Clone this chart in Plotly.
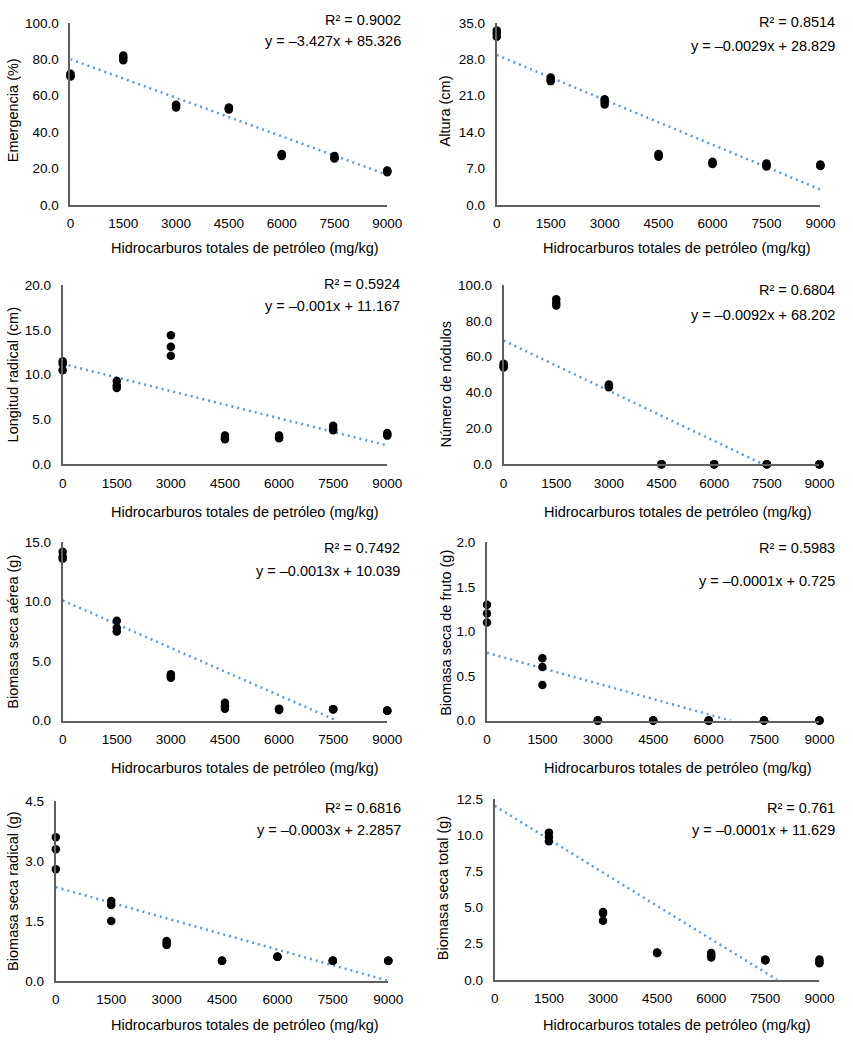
import plotly.graph_objects as go

# ---------------- data ----------------
htp_levels = [0, 1500, 3000, 4500, 6000, 7500, 9000]
x_tick_labels = ["0", "1500", "3000", "4500", "6000", "7500", "9000"]

emergencia = [[72, 71, 70.5], [82, 81, 79.5], [55, 54.5, 53.5], [53.5, 53, 52.5],
              [28, 27.5, 27], [27, 26, 25.5], [19, 18.5, 18]]
altura = [[33.5, 33, 32.3], [24.5, 24, 23.8], [20.3, 19.8, 19.3], [9.8, 9.5, 9.3],
          [8.3, 8.0, 7.9], [8.0, 7.7, 7.4], [7.8, 7.6, 7.5]]
longitud = [[11.5, 11.2, 10.5], [9.3, 8.8, 8.5], [14.4, 13.1, 12.1], [3.2, 3.0, 2.8],
            [3.2, 3.0, 2.9], [4.3, 4.0, 3.8], [3.5, 3.3, 3.2]]
nodulos = [[56, 55, 54], [92, 90, 88.5], [44.5, 44, 43], [0, 0, 0],
           [0, 0, 0], [0, 0, 0], [0, 0, 0]]
aerea = [[14.2, 13.8, 13.6], [8.4, 7.8, 7.5], [3.9, 3.7, 3.6], [1.5, 1.2, 1.0],
         [1.0, 0.95, 0.9], [0.95, 0.95, 0.95], [0.85, 0.83, 0.83]]
fruto = [[1.3, 1.2, 1.1], [0.7, 0.6, 0.4], [0, 0, 0], [0, 0, 0],
         [0, 0, 0], [0, 0, 0], [0, 0, 0]]
radical = [[3.6, 3.3, 2.8], [2.0, 1.9, 1.5], [1.0, 0.95, 0.9], [0.5, 0.5, 0.5],
           [0.6, 0.6, 0.6], [0.5, 0.5, 0.5], [0.5, 0.5, 0.5]]
total = [[], [10.2, 9.9, 9.6], [4.7, 4.6, 4.1], [1.9, 1.85, 1.85],
         [1.85, 1.7, 1.55], [1.4, 1.35, 1.35], [1.4, 1.25, 1.15]]

# trendline end points: [x values], [y values]
trend_emergencia = [[0, 9000], [80.0, 16.6]]
trend_altura = [[0, 9000], [28.8, 3.0]]
trend_longitud = [[0, 9000], [11.2, 2.1]]
trend_nodulos = [[0, 7400], [69.0, 0]]
trend_aerea = [[0, 7600], [10.1, 0]]
trend_fruto = [[0, 6600], [0.76, 0]]
trend_radical = [[0, 9000], [2.35, 0]]
trend_total = [[0, 7830], [12.05, 0]]

y_titles = ["Emergencia (%)", "Altura (cm)", "Longitud radical (cm)", "Número de nódulos",
            "Biomasa seca aérea (g)", "Biomasa seca de fruto (g)",
            "Biomasa seca radical (g)", "Biomasa seca total (g)"]
r2_labels = ["R² = 0.9002", "R² = 0.8514", "R² = 0.5924", "R² = 0.6804",
             "R² = 0.7492", "R² = 0.5983", "R² = 0.6816", "R² = 0.761"]
eq_labels = ["y = –3.427x + 85.326", "y = –0.0029x + 28.829", "y = –0.001x + 11.167",
             "y = –0.0092x + 68.202", "y = –0.0013x + 10.039", "y = –0.0001x + 0.725",
             "y = –0.0003x + 2.2857", "y = –0.0001x + 11.629"]
y_max = [100, 35, 20, 100, 15, 2, 4.5, 12.5]
y_step = [20, 7, 5, 20, 5, 0.5, 1.5, 2.5]
x_title = "Hidrocarburos totales de petróleo (mg/kg)"

series = [emergencia, altura, longitud, nodulos, aerea, fruto, radical, total]
trends = [trend_emergencia, trend_altura, trend_longitud, trend_nodulos,
          trend_aerea, trend_fruto, trend_radical, trend_total]

# ---------------- layout geometry (window pixels) ----------------
W, H = 853, 1043
plot_px = [  # x0, x1, ytop, ybottom
    (68, 392, 16, 201), (504, 835, 16, 201),
    (60, 392, 282, 464), (511, 834, 282, 464),
    (60, 392, 543, 724), (494, 834, 543, 724),
    (53, 393, 806, 988), (502, 834, 804, 987),
]
ytitle_px = [(10, 105), (452, 105), (9, 373), (452, 382),
             (9, 634), (452, 635), (9, 897), (449, 894)]
xtitle_px = [(246, 245), (688, 245), (246, 512), (689, 512),
             (246, 772), (689, 772), (246, 1033), (688, 1033)]
r2_px = [(408, 13, 34), (852, 15, 40), (407, 281, 303), (852, 287, 312),
         (407, 549, 572), (852, 549, 582), (408, 813, 835), (852, 813, 835)]

FONT = "Liberation Sans, Arial, sans-serif"
TICK_SIZE = 13.5
TEXT_SIZE = 14.5
AXIS_COLOR = "#5f5f5f"
fig = go.Figure()
layout = dict(width=W, height=H, margin=dict(l=0, r=0, t=0, b=0, pad=0),
              paper_bgcolor="white", plot_bgcolor="white", showlegend=False,
              font=dict(family=FONT, size=TICK_SIZE, color="#000000"))
annotations = []


def px_x(v):
    return v / W


def px_y(v):
    return 1 - v / H


for i in range(8):
    n = i + 1
    xa = "x" if n == 1 else f"x{n}"
    ya = "y" if n == 1 else f"y{n}"
    xs, ys = [], []
    for lvl, vals in zip(htp_levels, series[i]):
        for v in vals:
            xs.append(lvl)
            ys.append(v)
    fig.add_trace(go.Scatter(x=trends[i][0], y=trends[i][1], mode="lines",
                             line=dict(color="#5B9BD5", width=2.5, dash="2px,4px"),
                             xaxis=xa, yaxis=ya, cliponaxis=False, hoverinfo="skip"))
    fig.add_trace(go.Scatter(x=xs, y=ys, mode="markers",
                             marker=dict(color="black", size=8.5),
                             xaxis=xa, yaxis=ya, cliponaxis=False))
    x0, x1, yt, yb = plot_px[i]
    ticks_y = [round(k * y_step[i], 4) for k in range(int(round(y_max[i] / y_step[i])) + 1)]
    layout["xaxis" if n == 1 else f"xaxis{n}"] = dict(
        domain=[px_x(x0), px_x(x1)], anchor=ya, range=[0, 9000],
        tickvals=htp_levels, ticktext=x_tick_labels, showgrid=False, zeroline=False,
        showline=True, linecolor=AXIS_COLOR, linewidth=2,
        ticks="outside", ticklen=5, tickcolor="rgba(0,0,0,0)",
        tickfont=dict(family=FONT, size=TICK_SIZE, color="#000000"))
    layout["yaxis" if n == 1 else f"yaxis{n}"] = dict(
        domain=[px_y(yb), px_y(yt)], anchor=xa, range=[0, y_max[i]],
        tickvals=ticks_y, ticktext=[f"{t:.1f}" for t in ticks_y],
        showgrid=False, zeroline=False,
        showline=True, linecolor=AXIS_COLOR, linewidth=2,
        ticks="outside", ticklen=7, tickcolor="rgba(0,0,0,0)",
        tickfont=dict(family=FONT, size=TICK_SIZE, color="#000000"))
    tx, ty = ytitle_px[i]
    annotations.append(dict(text=y_titles[i], x=px_x(tx), y=px_y(ty), xref="paper", yref="paper",
                            textangle=-90, showarrow=False, xanchor="center", yanchor="middle",
                            font=dict(family=FONT, size=TEXT_SIZE, color="#000000")))
    tx, ty = xtitle_px[i]
    annotations.append(dict(text=x_title, x=px_x(tx), y=px_y(ty), xref="paper", yref="paper",
                            showarrow=False, xanchor="center", yanchor="middle",
                            font=dict(family=FONT, size=TEXT_SIZE, color="#000000")))
    rx, ry1, ry2 = r2_px[i]
    annotations.append(dict(text=r2_labels[i], x=px_x(rx), y=px_y(ry1), xref="paper", yref="paper",
                            showarrow=False, xanchor="right", yanchor="middle",
                            font=dict(family=FONT, size=TEXT_SIZE, color="#000000")))
    annotations.append(dict(text=eq_labels[i], x=px_x(rx), y=px_y(ry2), xref="paper", yref="paper",
                            showarrow=False, xanchor="right", yanchor="middle",
                            font=dict(family=FONT, size=TEXT_SIZE, color="#000000")))

layout["annotations"] = annotations
fig.update_layout(**layout)
# remove the default 8px page margin so the figure fills the window exactly
fig.write_html("out.html", config={"displayModeBar": False},
               post_script="document.body.style.margin='0';document.body.style.overflow='hidden';")
